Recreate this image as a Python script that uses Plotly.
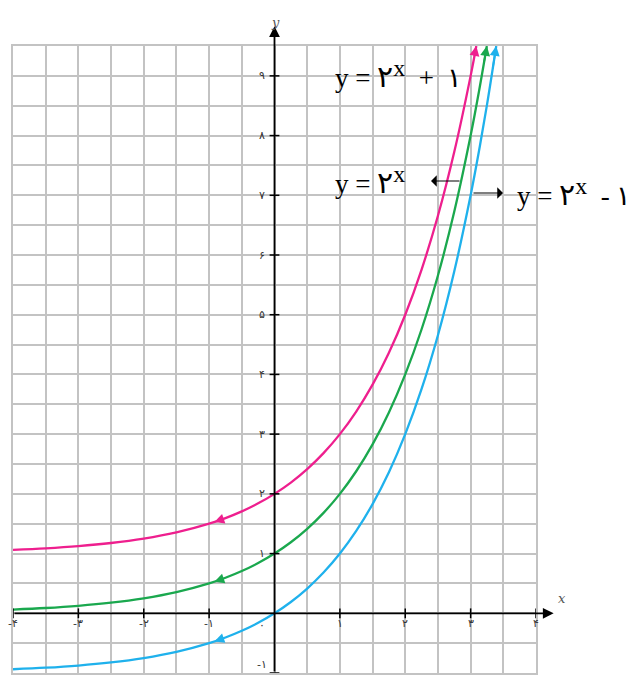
import plotly.graph_objects as go

# ---- data ----
x_base = [-4, -3.5, -3, -2.5, -2, -1.5, -1, -0.75, -0.5, -0.25, 0, 0.25, 0.5, 0.75, 1, 1.25, 1.5, 1.75, 2, 2.25, 2.5, 2.75, 3]
x_pink = x_base + [3.087]
y_pink = [1.0625, 1.0884, 1.125, 1.1768, 1.25, 1.3536, 1.5, 1.5946, 1.7071, 1.8409, 2, 2.1892, 2.4142, 2.6818,
          3, 3.3784, 3.8284, 4.3636, 5, 5.7568, 6.6569, 7.7272, 9, 9.5]
x_green = x_base + [3.125, 3.248]
y_green = [0.0625, 0.0884, 0.125, 0.1768, 0.25, 0.3536, 0.5, 0.5946, 0.7071, 0.8409, 1, 1.1892, 1.4142, 1.6818,
           2, 2.3784, 2.8284, 3.3636, 4, 4.7568, 5.6569, 6.7272, 8, 8.724, 9.5]
x_blue = x_base + [3.125, 3.25, 3.392]
y_blue = [-0.9375, -0.9116, -0.875, -0.8232, -0.75, -0.6464, -0.5, -0.4054, -0.2929, -0.1591, 0, 0.1892, 0.4142,
          0.6818, 1, 1.3784, 1.8284, 2.3636, 3, 3.7568, 4.6569, 5.7272, 7, 7.724, 8.514, 9.5]

x_tick_vals = [-4, -3, -2, -1, 1, 2, 3, 4]
x_tick_text = ["-۴", "-۳", "-۲", "-۱", "۱", "۲", "۳", "۴"]
y_tick_vals = [9, 8, 7, 6, 5, 4, 3, 2, 1, -1]
y_tick_text = ["۹", "۸", "۷", "۶", "۵", "۴", "۳", "۲", "۱", "-۱"]

PINK = "#ee1f8e"
GREEN = "#1aa84e"
BLUE = "#1fb1ec"
GRID = "#c3c3c3"

fig = go.Figure()
for xs, ys, c in [(x_pink, y_pink, PINK), (x_green, y_green, GREEN), (x_blue, y_blue, BLUE)]:
    fig.add_trace(go.Scatter(x=xs, y=ys, mode="lines", line=dict(color=c, width=2.3, shape="spline", smoothing=1.0),
                             hoverinfo="skip", showlegend=False))

# small axis ticks
fig.add_trace(go.Scatter(x=x_tick_vals, y=[0] * len(x_tick_vals), mode="markers",
                         marker=dict(symbol="line-ns-open", size=7, color="black", line=dict(color="black", width=1.5)),
                         hoverinfo="skip", showlegend=False))
fig.add_trace(go.Scatter(x=[0] * len(y_tick_vals), y=y_tick_vals, mode="markers",
                         marker=dict(symbol="line-ew-open", size=7, color="black", line=dict(color="black", width=1.5)),
                         hoverinfo="skip", showlegend=False))

ann = []
def px_x(p):
    return (p - 13) / 523
def px_y(p):
    return (673 - p) / 627

# axes with arrows
ann.append(dict(x=4.27, y=0, ax=-4, ay=0, xref="x", yref="y", axref="x", ayref="y", text="",
                showarrow=True, arrowhead=2, arrowsize=1.2, arrowwidth=1.8, arrowcolor="black"))
ann.append(dict(x=0, y=9.83, ax=0, ay=-1, xref="x", yref="y", axref="x", ayref="y", text="",
                showarrow=True, arrowhead=2, arrowsize=1.2, arrowwidth=1.8, arrowcolor="black"))
ann.append(dict(x=px_x(568), y=px_y(608), xref="paper", yref="paper", text="<i>x</i>", showarrow=False,
                font=dict(size=13, color="#555", family="DejaVu Serif")))
ann.append(dict(x=px_x(275), y=px_y(13), xref="paper", yref="paper", text="<i>y</i>", showarrow=False,
                font=dict(size=13, color="#555", family="DejaVu Serif")))

# tick labels
TF = dict(size=11, color="#333", family="DejaVu Sans")
for v, t in zip(x_tick_vals, x_tick_text):
    ann.append(dict(x=v, y=-0.17, xref="x", yref="y", text=t, showarrow=False, font=TF))
ann.append(dict(x=-0.19, y=-0.2, xref="x", yref="y", text="۰", showarrow=False, font=TF))
for v, t in zip(y_tick_vals, y_tick_text):
    ann.append(dict(x=-0.19, y=v, xref="x", yref="y", text=t, showarrow=False, font=TF,
                    yanchor="bottom" if v < 0 else "middle"))

# arrowheads along curves (pointing left at x ~ -0.9)
for c, off in [(PINK, 1), (GREEN, 0), (BLUE, -1)]:
    ann.append(dict(x=-0.92, y=2 ** -0.92 + off, ax=-0.8, ay=2 ** -0.8 + off, xref="x", yref="y",
                    axref="x", ayref="y", text="", showarrow=True, arrowhead=2, arrowsize=1.1,
                    arrowwidth=1.8, arrowcolor=c))
# arrowheads at curve tops
for xs, ys, c in [(x_pink, y_pink, PINK), (x_green, y_green, GREEN), (x_blue, y_blue, BLUE)]:
    ann.append(dict(x=xs[-1], y=ys[-1], ax=xs[-2] + (xs[-1] - xs[-2]) * 0.6, ay=ys[-2] + (ys[-1] - ys[-2]) * 0.6,
                    xref="x", yref="y", axref="x", ayref="y", text="", showarrow=True, arrowhead=2,
                    arrowsize=1.1, arrowwidth=1.8, arrowcolor=c))

# function labels
SERIF = "Liberation Serif"
D = "<span style='font-size:30px'>۲</span>"
SUP = "<sup><span style='font-size:24px'>x</span></sup>"
LF = dict(size=27, color="black", family=SERIF)
ann.append(dict(x=px_x(333), y=px_y(74), xref="paper", yref="paper", xanchor="left", yanchor="middle",
                text="y = " + D + SUP + "  +  ۱", showarrow=False, font=LF))
ann.append(dict(x=px_x(333), y=px_y(180), xref="paper", yref="paper", xanchor="left", yanchor="middle",
                text="y = " + D + SUP, showarrow=False, font=LF))
ann.append(dict(x=px_x(515), y=px_y(192), xref="paper", yref="paper", xanchor="left", yanchor="middle",
                text="y = " + D + SUP + "  - ۱", showarrow=False, font=LF))
# pointer arrows
ann.append(dict(x=px_x(431), y=px_y(181), ax=30, ay=0, xref="paper", yref="paper",
                axref="pixel", ayref="pixel", text="", showarrow=True, arrowhead=1, arrowsize=1.6,
                arrowwidth=1.2, arrowcolor="black"))
ann.append(dict(x=px_x(503), y=px_y(193), ax=-31, ay=0, xref="paper", yref="paper",
                axref="pixel", ayref="pixel", text="", showarrow=True, arrowhead=1, arrowsize=1.6,
                arrowwidth=1.2, arrowcolor="black"))

fig.update_layout(
    width=631, height=677,
    margin=dict(l=13, r=95, t=46, b=4, autoexpand=False),
    paper_bgcolor="white", plot_bgcolor="white",
    annotations=ann,
    xaxis=dict(range=[-4, 4], dtick=0.5, tick0=0, showgrid=True, gridcolor=GRID, gridwidth=2,
               zeroline=False, showticklabels=False, ticks="", showline=True, mirror=True,
               linecolor=GRID, linewidth=2, fixedrange=True),
    yaxis=dict(range=[-1, 9.5], dtick=0.5, tick0=0, showgrid=True, gridcolor=GRID, gridwidth=2,
               zeroline=False, showticklabels=False, ticks="", showline=True, mirror=True,
               linecolor=GRID, linewidth=2, fixedrange=True),
)

fig.write_html("out.html", post_script="document.body.style.margin='0px';",
               config={"displayModeBar": False})
